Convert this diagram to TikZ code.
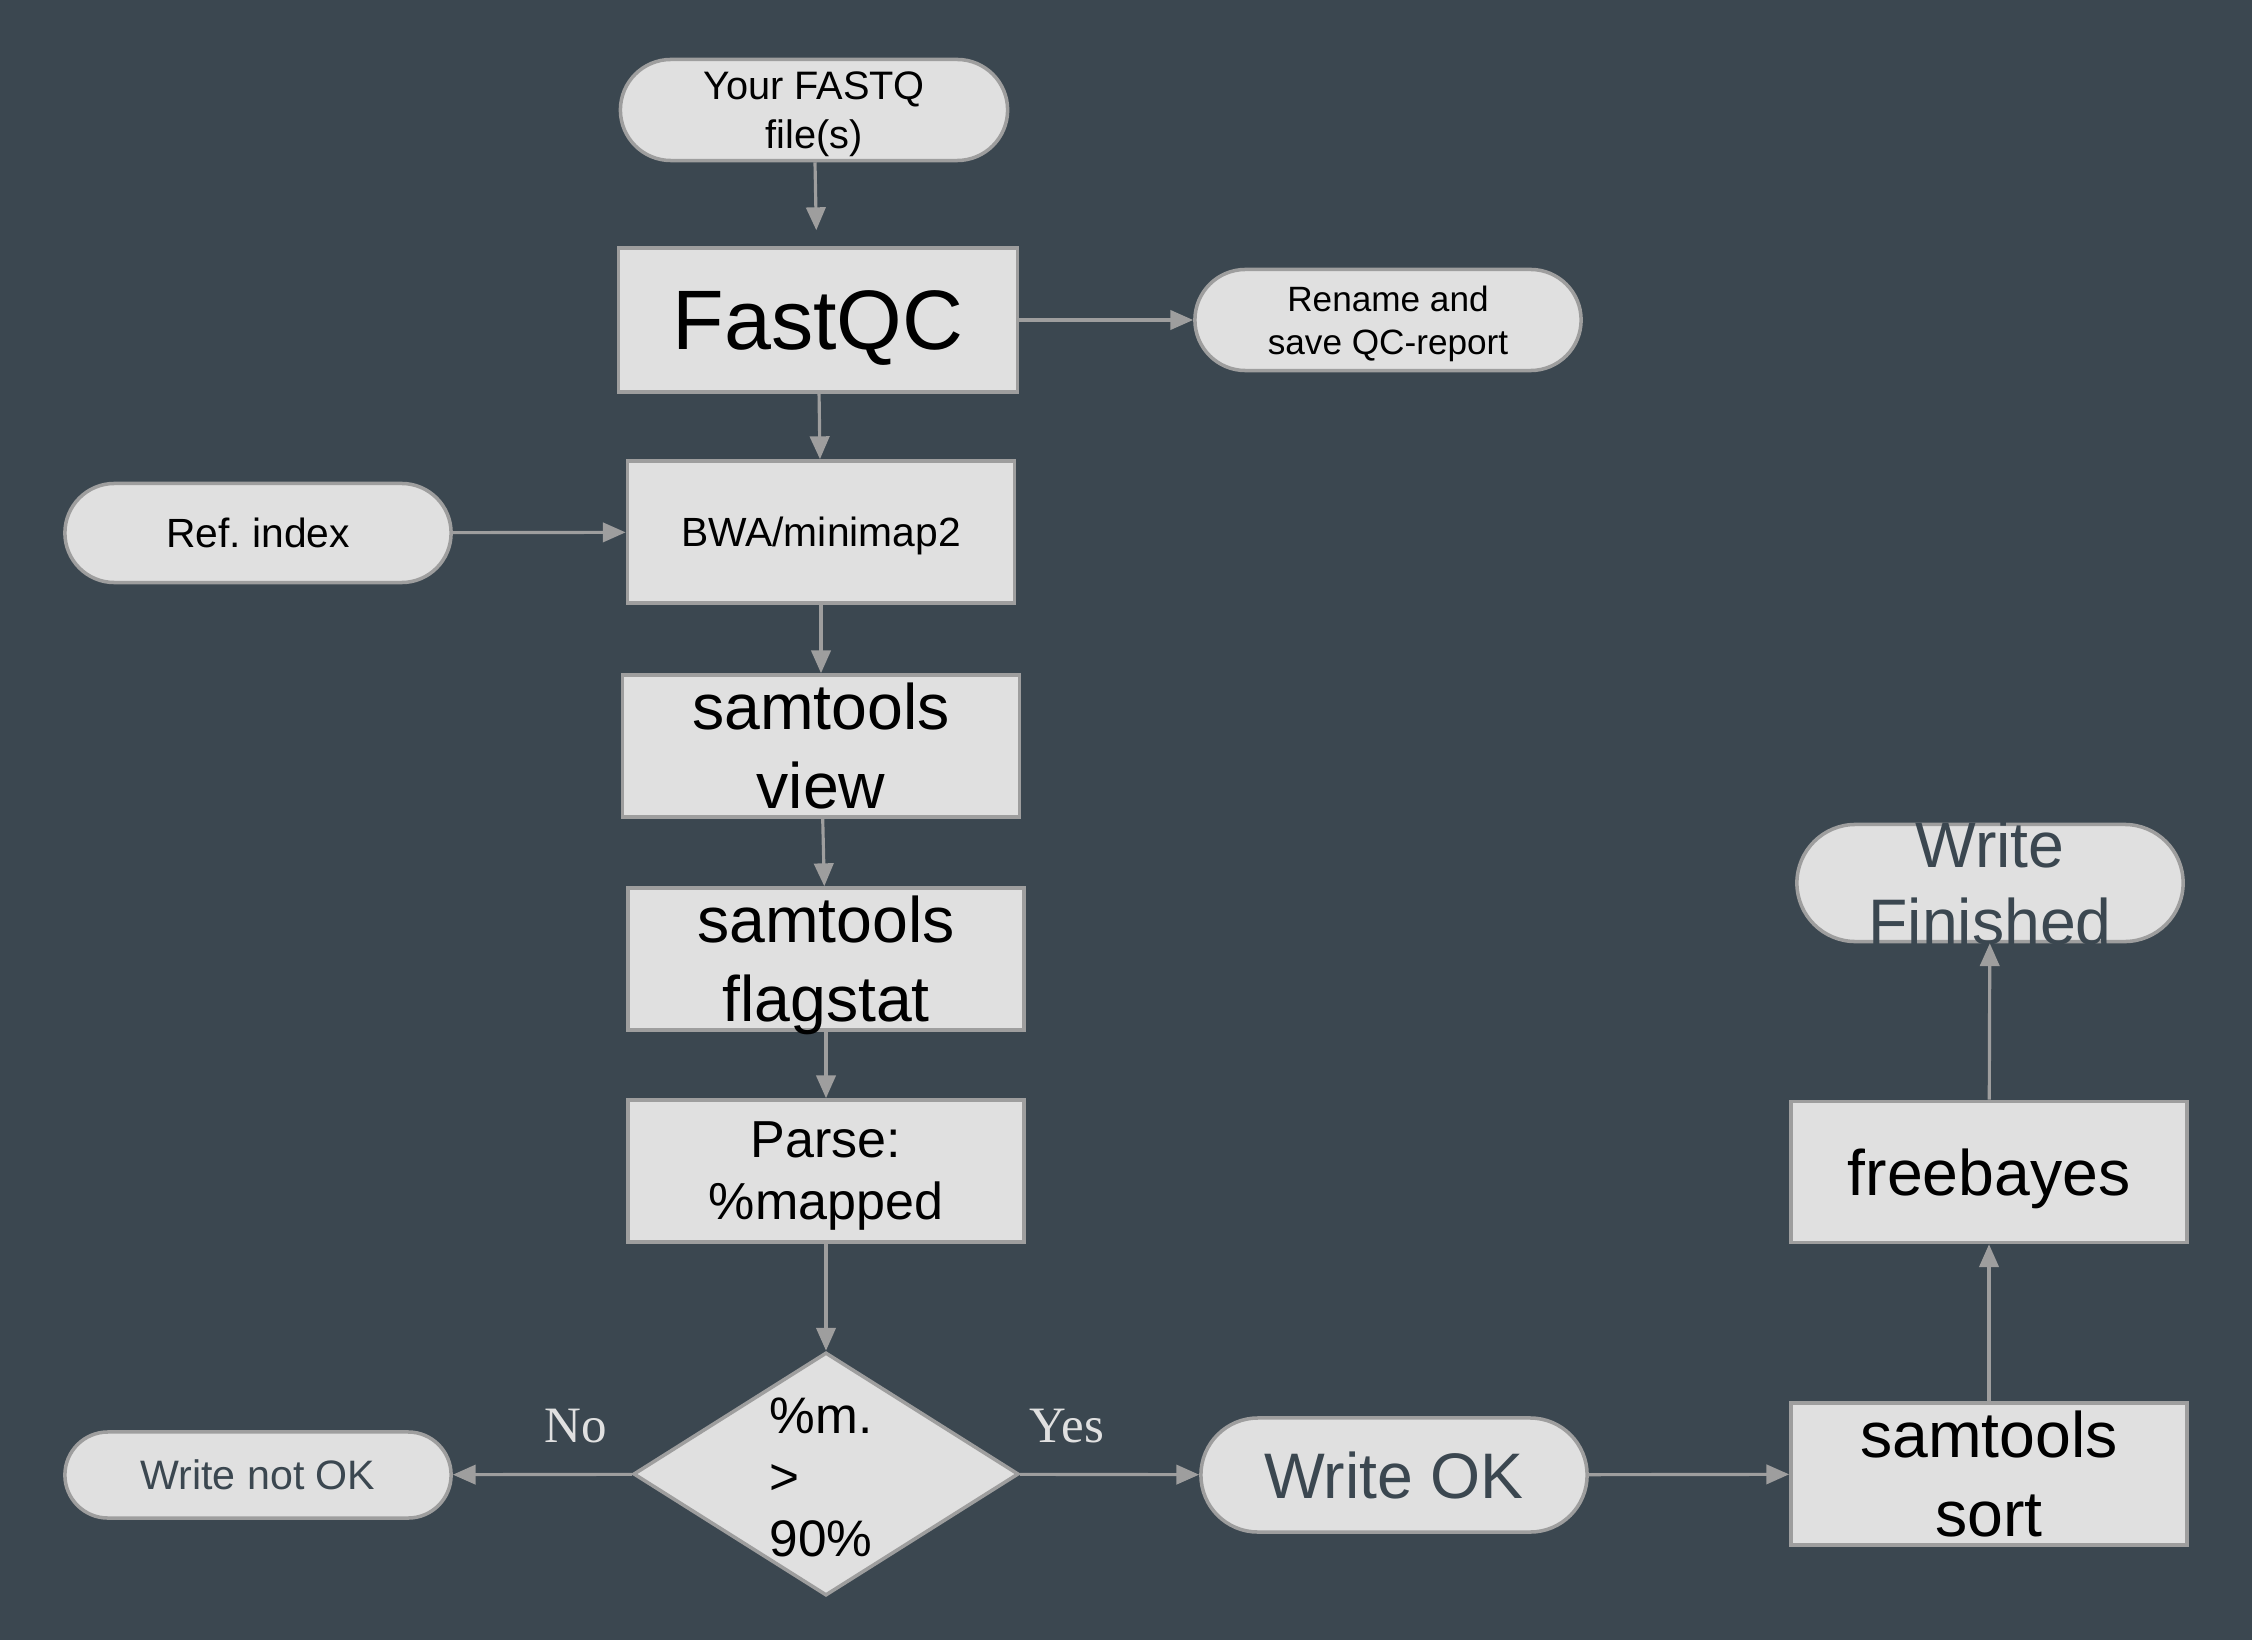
\documentclass[tikz,border=0pt]{standalone}
\usepackage{fontspec}
\setmainfont{Liberation Sans}
\newfontfamily\answerfont{Liberation Serif}
\usetikzlibrary{shapes.geometric,shapes.misc,arrows.meta}
\definecolor{bgslate}{HTML}{3B4750}
\definecolor{boxfill}{HTML}{E0E0E0}
\definecolor{edgegray}{HTML}{9E9E9E}
\newcommand{\fsz}[2]{\fontsize{#1pt}{#2pt}\selectfont}

\begin{document}
\begin{tikzpicture}[x=0.01cm,y=-0.01cm,
  box/.style={rectangle, draw=edgegray, fill=boxfill, line width=1pt, inner sep=0pt, align=center, text depth=0pt},
  pill/.style={rounded rectangle, draw=edgegray, fill=boxfill, line width=1pt, inner sep=0pt, align=center, text depth=0pt},
  flow/.style={draw=edgegray, line width=0.9pt, -{Triangle[length=6.5pt,width=5.5pt]}},
  answer/.style={text=boxfill, font=\answerfont\fsz{14.5}{17}},
]
  \fill[bgslate] (0,0) rectangle (2252,1640);
  \useasboundingbox (0,0) rectangle (2252,1640);

  \node[pill, minimum width=3.87cm, minimum height=1.01cm, font=\fsz{11.3}{13.9}] (fastq) at (814,110) {Your FASTQ\\file(s)};
  \node[box, minimum width=3.99cm, minimum height=1.44cm, font=\fsz{24}{29}] (fastqc) at (818,320) {FastQC};
  \node[pill, minimum width=3.86cm, minimum height=1.01cm, font=\fsz{10}{12.3}] (rename) at (1388,320) {Rename and\\save QC-report};
  \node[pill, minimum width=3.86cm, minimum height=0.99cm, font=\fsz{11.6}{14}] (refidx) at (258,533) {Ref.\ index};
  \node[box, minimum width=3.87cm, minimum height=1.42cm, font=\fsz{11.6}{14}] (bwa) at (821,532) {BWA/minimap2};
  \node[box, minimum width=3.97cm, minimum height=1.42cm, font=\fsz{18.3}{22.5}] (view) at (821,746) {samtools\\view};
  \node[box, minimum width=3.96cm, minimum height=1.42cm, font=\fsz{18.3}{22.5}] (flagstat) at (826,959) {samtools\\flagstat};
  \node[box, minimum width=3.96cm, minimum height=1.42cm, font=\fsz{14.8}{17.6}] (parse) at (826,1171) {Parse:\\\%mapped};

  \node[diamond, draw=edgegray, fill=boxfill, line width=1pt, inner sep=0pt, minimum width=3.85cm, minimum height=2.43cm] (check) at (826,1474) {};
  \node[align=left, font=\fsz{14.6}{17.5}] (checktxt) at (821,1477) {\%m.\\>\\90\%};

  \node[pill, minimum width=3.86cm, minimum height=0.86cm, text=bgslate, font=\fsz{11.7}{14}] (notok) at (258,1475) {Write not OK};
  \node[pill, minimum width=3.86cm, minimum height=1.14cm, text=bgslate, font=\fsz{18.3}{22}] (ok) at (1394,1475) {Write OK};
  \node[box, minimum width=3.96cm, minimum height=1.42cm, font=\fsz{18.3}{22.5}] (sort) at (1989,1474) {samtools\\sort};
  \node[box, minimum width=3.96cm, minimum height=1.41cm, font=\fsz{18.3}{22.5}] (freebayes) at (1989,1172) {freebayes};

  \node[pill, minimum width=3.86cm, minimum height=1.17cm] (fin) at (1990,883) {};
  \begin{scope}
    \clip (fin.south west) rectangle (fin.north east);
    \node[text=bgslate, align=center, font=\fsz{18.3}{21.7}] (fintxt) at (fin.center) {Write\\Finished};
  \end{scope}

  \node[answer] (no) at (576,1426) {No};
  \node[answer] (yes) at (1067,1426) {Yes};

  \draw[flow, shorten >=0.16cm] (fastq) -- (fastqc);
  \draw[flow] (fastqc) -- (rename);
  \draw[flow] (fastqc) -- (bwa);
  \draw[flow] (refidx) -- (bwa);
  \draw[flow] (bwa) -- (view);
  \draw[flow] (view) -- (flagstat);
  \draw[flow] (flagstat) -- (parse);
  \draw[flow] (parse) -- (check);
  \draw[flow] (check) -- (notok);
  \draw[flow] (check) -- (ok);
  \draw[flow] (ok) -- (sort);
  \draw[flow] (sort) -- (freebayes);
  \draw[flow] (freebayes) -- (fin);
\end{tikzpicture}
\end{document}
